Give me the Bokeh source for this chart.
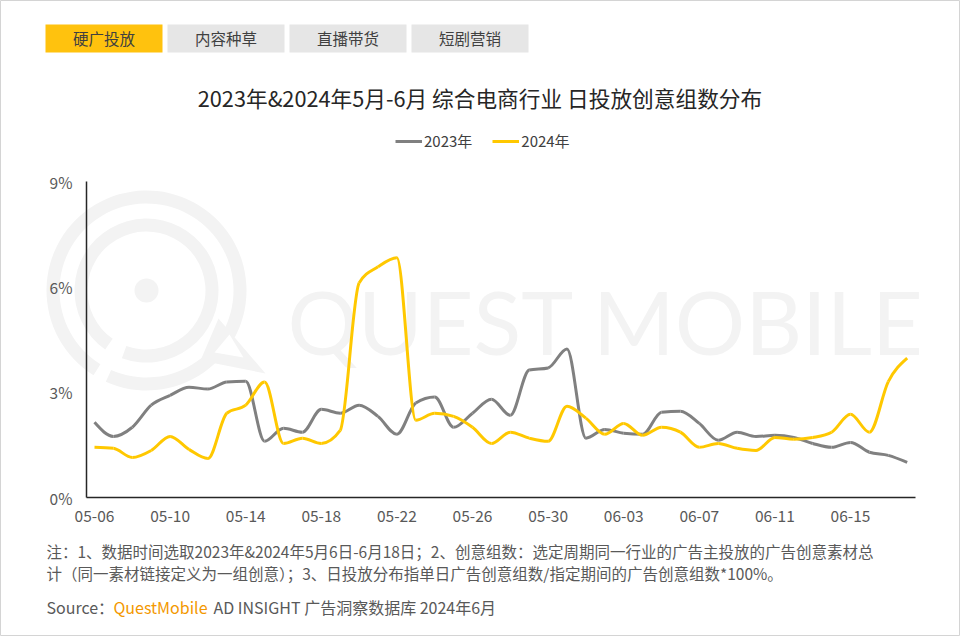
import numpy as np
import pandas as pd
from bokeh.plotting import figure
from bokeh.models import (Range1d, FixedTicker, PrintfTickFormatter, Legend, LegendItem,
                          LinearAxis)
from bokeh.embed import file_html
from bokeh.resources import INLINE
from bokeh.core.properties import value

# ---------------- data ----------------
dates = list(pd.date_range("2024-05-06", "2024-06-18").strftime("%m-%d"))
tick_idx = [0, 4, 8, 12, 16, 20, 24, 28, 32, 36, 40]
y_ticks = [0, 3, 6, 9]

series_names = ["2023年", "2024年"]
share_2023 = [2.14, 1.74, 2.00, 2.63, 2.91, 3.14, 3.09, 3.29, 3.31, 1.60,
              1.97, 1.86, 2.51, 2.40, 2.63, 2.31, 1.80, 2.69, 2.86, 2.00,
              2.40, 2.80, 2.34, 3.63, 3.69, 4.23, 1.69, 1.94, 1.83, 1.80,
              2.43, 2.46, 2.11, 1.63, 1.86, 1.74, 1.77, 1.71, 1.54, 1.43,
              1.57, 1.29, 1.20, 1.00]
share_2024 = [1.43, 1.40, 1.14, 1.34, 1.74, 1.37, 1.11, 2.40, 2.63, 3.29,
              1.54, 1.69, 1.54, 1.91, 6.11, 6.57, 6.83, 2.20, 2.40, 2.31,
              2.00, 1.54, 1.86, 1.69, 1.60, 2.60, 2.26, 1.80, 2.11, 1.77,
              2.00, 1.86, 1.43, 1.54, 1.40, 1.34, 1.71, 1.66, 1.71, 1.86,
              2.37, 1.86, 3.30, 3.97]

tabs = ["硬广投放", "内容种草", "直播带货", "短剧营销"]
title_text = "2023年&2024年5月-6月 综合电商行业 日投放创意组数分布"
note_lines = [
    "注：1、数据时间选取2023年&2024年5月6日-6月18日；2、创意组数：选定周期同一行业的广告主投放的广告创意素材总",
    "计（同一素材链接定义为一组创意）；3、日投放分布指单日广告创意组数/指定期间的广告创意组数*100%。",
]
source_parts = ["Source：", "QuestMobile", "AD INSIGHT 广告洞察数据库 2024年6月"]

FONT = "Noto Sans CJK SC"
W, H = 960, 636

# layout of the plotting region on the canvas (pixels)
X0_PX, PX_PER_DAY = 94, 18.9      # pixel of first day, pixels per day
Y0_PX, PX_PER_PCT = 497, 35.11    # pixel of 0%, pixels per percent
FRAME_L, FRAME_R = 86, 915


def monotone_segments(xs, ys):
    """Monotone cubic (d3 monotoneX style) bezier segments through every data point."""
    x = np.asarray(xs, float)
    y = np.asarray(ys, float)
    n = len(x)
    h = np.diff(x)
    s = np.diff(y) / h
    t = np.zeros(n)
    for k in range(1, n - 1):
        s0, s1 = s[k - 1], s[k]
        p_ = (s0 * h[k] + s1 * h[k - 1]) / (h[k - 1] + h[k])
        t[k] = (np.sign(s0) + np.sign(s1)) * min(abs(s0), abs(s1), 0.5 * abs(p_))
    t[0] = (3 * s[0] - t[1]) / 2
    t[-1] = (3 * s[-1] - t[-2]) / 2
    return dict(
        x0=x[:-1], y0=y[:-1], x1=x[1:], y1=y[1:],
        cx0=x[:-1] + h / 3, cy0=y[:-1] + t[:-1] * h / 3,
        cx1=x[1:] - h / 3, cy1=y[1:] - t[1:] * h / 3,
    )


def dx(px):
    return (px - X0_PX) / PX_PER_DAY


def dy(py):
    return (Y0_PX - py) / PX_PER_PCT


p = figure(width=W, height=H,
           x_range=Range1d(dx(0), dx(W)), y_range=Range1d(dy(H), dy(0)),
           x_axis_type=None, y_axis_type=None,
           output_backend="svg", toolbar_location=None,
           min_border=0, min_border_left=0, min_border_right=0,
           min_border_top=0, min_border_bottom=0)
p.extra_x_ranges = {"px": Range1d(0, W)}
p.extra_y_ranges = {"py": Range1d(H, 0)}
p.outline_line_color = "#D4D4D4"
p.outline_line_width = 1
p.grid.visible = False
p.background_fill_color = "white"
p.border_fill_color = "white"

PX = dict(x_range_name="px", y_range_name="py")

# ---------- faint watermark ----------
WM = "#F3F3F3"
p.annular_wedge(x=146, y=290, inner_radius=87, outer_radius=100,
                start_angle=238, end_angle=-114, direction="clock",
                start_angle_units="deg", end_angle_units="deg",
                fill_color=WM, line_color=None, **PX)
p.annular_wedge(x=146, y=290, inner_radius=59, outer_radius=72,
                start_angle=235, end_angle=-110, direction="clock",
                start_angle_units="deg", end_angle_units="deg",
                fill_color=WM, line_color=None, **PX)
p.scatter(x=[146], y=[290], size=24, fill_color=WM, line_color=None, **PX)
p.patch(x=[218, 265, 200], y=[318, 373, 360], fill_color=WM, line_color=None, **PX)
p.patch(x=[229, 243, 214], y=[334, 357, 352], fill_color="white", line_color=None, **PX)
p.text(x=[287], y=[320], text=["QUEST MOBILE"],
       text_font=value("Lato"), text_font_size=value("88px"), text_color=WM,
       text_baseline="alphabetic", text_align="left", **PX)

# ---------- tabs, title, notes ----------
tab_left = [45 + k * 122 for k in range(len(tabs))]
tab_right = [l + 117 for l in tab_left]
tab_colors = ["#FFC20E"] + ["#E6E6E6"] * (len(tabs) - 1)
p.quad(left=tab_left, right=tab_right, top=[24] * len(tabs), bottom=[52] * len(tabs),
       fill_color=tab_colors, line_color=None, **PX)
p.text(x=[(l + r) / 2 for l, r in zip(tab_left, tab_right)], y=[37] * len(tabs), text=tabs,
       text_font=value(FONT), text_font_size=value("15.5px"), text_color="#404040",
       text_align="center", text_baseline="middle", **PX)
p.text(x=[479.5], y=[97], text=[title_text],
       text_font=value(FONT), text_font_size=value("21.7px"), text_color="#262626",
       text_align="center", text_baseline="middle", **PX)
p.text(x=[46, 46], y=[550, 572], text=note_lines,
       text_font=value(FONT), text_font_size=value("15.5px"), text_color="#595959",
       text_align="left", text_baseline="middle", **PX)
p.text(x=[46, 213], y=[606, 606], text=[source_parts[0], source_parts[2]],
       text_font=value(FONT), text_font_size=value("16px"), text_color="#595959",
       text_align="left", text_baseline="middle", **PX)
p.text(x=[113], y=[606], text=[source_parts[1]],
       text_font=value(FONT), text_font_size=value("16px"), text_color="#F39800",
       text_align="left", text_baseline="middle", **PX)

# ---------- series ----------
xs = list(range(len(dates)))
seg23 = monotone_segments(xs, share_2023)
seg24 = monotone_segments(xs, share_2024)
r23 = p.bezier(source=seg23, x0="x0", y0="y0", x1="x1", y1="y1",
               cx0="cx0", cy0="cy0", cx1="cx1", cy1="cy1",
               line_color="#808080", line_width=3)
r24 = p.bezier(source=seg24, x0="x0", y0="y0", x1="x1", y1="y1",
               cx0="cx0", cy0="cy0", cx1="cx1", cy1="cy1",
               line_color="#FFC800", line_width=3)

legend = Legend(items=[LegendItem(label=series_names[0], renderers=[r23]),
                       LegendItem(label=series_names[1], renderers=[r24])],
                orientation="horizontal", location=(395, 485),
                glyph_width=27, glyph_height=20, label_height=20,
                label_standoff=2, spacing=20, padding=0, margin=0,
                border_line_color=None, background_fill_alpha=0,
                label_text_font=FONT, label_text_font_size="15px",
                label_text_color="#404040")
p.add_layout(legend)

# ---------- axes (fixed inside the canvas-wide frame) ----------
xaxis = LinearAxis(fixed_location=0, bounds=(dx(FRAME_L), dx(FRAME_R)),
                   ticker=FixedTicker(ticks=tick_idx),
                   major_label_overrides={i: dates[i] for i in tick_idx},
                   major_label_standoff=12)
yaxis = LinearAxis(fixed_location=dx(FRAME_L), bounds=(0, 9),
                   ticker=FixedTicker(ticks=y_ticks),
                   formatter=PrintfTickFormatter(format="%d%%"),
                   major_label_standoff=14)
for ax in (xaxis, yaxis):
    ax.axis_line_color = "#262626"
    ax.axis_line_width = 1.5
    ax.major_tick_line_color = None
    ax.minor_tick_line_color = None
    ax.major_tick_out = 0
    ax.major_tick_in = 0
    ax.major_label_text_font = FONT
    ax.major_label_text_font_size = "15.5px"
    ax.major_label_text_color = "#595959"
p.add_layout(xaxis, "below")
p.add_layout(yaxis, "left")

open("out.html", "w").write(file_html(p, INLINE))
